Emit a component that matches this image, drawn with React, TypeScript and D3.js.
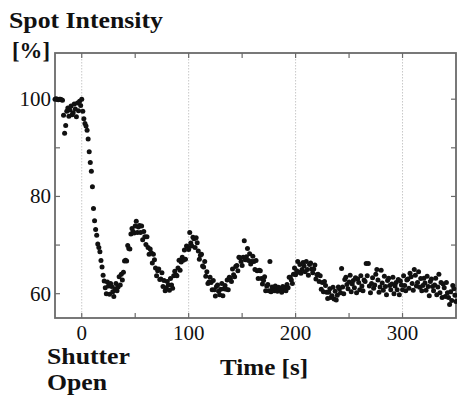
import React from "react";
import * as d3 from "d3";

// Sampled every second, starting at t = -25 s
const startTime = -25;
const sampleStep = 1;
const intensity: number[] = [
  // -25 .. -16
  100.0, 100.1, 100.0, 99.9, 100.0, 100.0, 99.9, 99.8, 96.7, 93.0,
  // -15 .. -6
  94.6, 97.5, 98.2, 96.5, 97.8, 98.6, 96.8, 97.2, 99.0, 98.0,
  // -5 .. 4
  96.4, 99.2, 97.6, 99.6, 98.7, 100.0, 97.5, 96.0, 95.0, 94.5,
  // 5 .. 14
  93.6, 91.8, 89.2, 87.0, 85.2, 82.0, 77.5, 75.0, 73.2, 72.0,
  // 15 .. 24
  70.2, 69.5, 68.6, 66.8, 65.5, 63.8, 62.6, 61.2, 60.0, 62.4,
  // 25 .. 34
  61.6, 59.9, 62.1, 61.5, 60.4, 59.4, 61.0, 62.1, 60.6, 61.4,
  // 35 .. 44
  63.5, 61.8, 64.0, 62.8, 64.4, 66.7, 66.9, 66.7, 69.9, 69.3,
  // 45 .. 54
  69.2, 72.3, 73.4, 72.8, 72.5, 73.9, 74.9, 72.6, 73.7, 74.0,
  // 55 .. 64
  72.6, 73.9, 71.1, 72.8, 71.7, 70.1, 71.7, 69.5, 68.1, 69.2,
  // 65 .. 74
  68.4, 66.3, 68.1, 67.0, 65.3, 63.7, 64.7, 65.1, 62.9, 63.0,
  // 75 .. 84
  64.3, 61.5, 62.7, 60.6, 61.2, 62.5, 61.8, 60.7, 63.1, 61.8,
  // 85 .. 94
  61.1, 63.7, 64.6, 63.9, 63.7, 65.3, 66.9, 64.8, 66.5, 67.5,
  // 95 .. 104
  66.9, 69.0, 67.1, 69.8, 69.7, 69.1, 72.6, 70.4, 69.8, 71.6,
  // 105 .. 114
  71.3, 69.5, 71.5, 70.5, 68.8, 67.1, 67.9, 68.1, 65.7, 65.5,
  // 115 .. 124
  66.6, 63.6, 64.5, 62.1, 62.4, 63.4, 62.3, 60.8, 62.7, 60.8,
  // 125 .. 134
  59.5, 61.5, 61.8, 60.5, 59.8, 60.9, 62.1, 59.6, 61.0, 61.7,
  // 135 .. 144
  60.9, 62.8, 60.8, 63.4, 63.2, 62.5, 65.1, 63.9, 63.5, 65.6,
  // 145 .. 154
  65.8, 64.7, 67.5, 67.4, 66.6, 65.8, 67.5, 70.9, 67.0, 67.6,
  // 155 .. 164
  69.3, 66.8, 68.2, 66.1, 66.6, 67.7, 66.6, 65.0, 66.8, 64.7,
  // 165 .. 174
  63.1, 64.8, 64.7, 63.1, 62.0, 62.7, 63.5, 60.6, 61.6, 61.9,
  // 175 .. 184
  60.6, 66.6, 60.4, 61.4, 61.1, 60.6, 61.6, 60.8, 60.5, 61.3,
  // 185 .. 194
  60.7, 61.0, 60.3, 61.5, 60.8, 61.2, 60.6, 61.9, 61.2, 63.4,
  // 195 .. 204
  63.4, 62.8, 62.1, 64.0, 65.3, 63.9, 64.7, 66.6, 64.4, 66.0,
  // 205 .. 214
  64.2, 65.0, 66.4, 65.7, 64.5, 66.6, 65.0, 63.8, 66.0, 66.3,
  // 215 .. 224
  65.1, 64.3, 65.1, 65.9, 63.0, 63.9, 64.0, 62.5, 63.7, 60.9,
  // 225 .. 234
  62.3, 60.4, 62.5, 61.7, 60.3, 59.0, 60.3, 61.0, 59.2, 59.6,
  // 235 .. 244
  61.3, 58.9, 60.5, 58.7, 59.7, 61.4, 61.0, 60.2, 65.2, 61.4,
  // 245 .. 254
  60.0, 62.9, 63.4, 61.9, 61.0, 62.4, 63.8, 60.4, 62.0, 62.7,
  // 255 .. 264
  61.2, 63.3, 60.2, 63.0, 62.3, 60.8, 63.7, 61.6, 60.6, 62.8,
  // 265 .. 274
  62.5, 66.2, 63.7, 66.2, 61.6, 60.2, 62.1, 63.3, 61.1, 61.8,
  // 275 .. 284
  64.0, 65.0, 62.8, 60.3, 61.4, 64.8, 62.2, 60.7, 63.6, 61.5,
  // 285 .. 294
  59.8, 62.7, 63.2, 61.7, 60.8, 62.0, 63.4, 60.0, 61.6, 62.3,
  // 295 .. 304
  60.8, 62.9, 59.8, 62.6, 61.8, 60.8, 63.7, 61.7, 60.6, 62.8,
  // 305 .. 314
  63.0, 61.1, 64.2, 63.5, 62.1, 60.7, 65.0, 63.8, 61.6, 62.3,
  // 315 .. 324
  64.5, 61.3, 63.1, 60.6, 61.7, 63.2, 62.2, 60.7, 63.6, 61.5,
  // 325 .. 334
  59.6, 62.5, 63.0, 61.5, 60.6, 61.8, 63.2, 59.8, 61.4, 64.0,
  // 335 .. 344
  60.2, 62.3, 59.2, 62.0, 61.2, 59.4, 62.3, 60.2, 59.2, 57.8,
  // 345 .. 350
  60.4, 58.6, 61.7, 61.0, 59.7, 58.4,
];

const xDomain: [number, number] = [-25, 350];
const yDomain: [number, number] = [55, 109.5];
const xMajorTicks = [0, 100, 200, 300];
const xMinorTicks = [50, 150, 250];
const yTicks = [60, 70, 80, 90, 100];
const yLabelTicks = [60, 80, 100];

const W = 457;
const H = 396;
const left = 55;
const right = 456;
const top = 53;
const bottom = 318;

export default function App() {
  const x = d3.scaleLinear().domain(xDomain).range([left, right]);
  const y = d3.scaleLinear().domain(yDomain).range([bottom, top]);
  const points = intensity.map((v, i) => ({ t: startTime + i * sampleStep, v }));
  const serif = "'Liberation Serif', 'Times New Roman', serif";
  const tick = 5;
  const axisColor = "#6a6a6a";

  return (
    <svg
      width={W}
      height={H}
      viewBox={`0 0 ${W} ${H}`}
      style={{ position: "absolute", left: 0, top: 0, background: "#fff" }}
    >
      <rect x={0} y={0} width={W} height={H} fill="#fff" />
      {/* grid */}
      {xMajorTicks.map((t) => (
        <line
          key={`g${t}`}
          x1={x(t)}
          x2={x(t)}
          y1={top}
          y2={bottom}
          stroke="#c8c8c8"
          strokeWidth={1}
          strokeDasharray="1.5,1.5"
        />
      ))}
      {/* ticks bottom/top */}
      {[...xMajorTicks, ...xMinorTicks].map((t) => (
        <g key={`xt${t}`}>
          <line x1={x(t)} x2={x(t)} y1={bottom} y2={bottom - tick} stroke={axisColor} strokeWidth={1.2} />
          <line x1={x(t)} x2={x(t)} y1={top} y2={top + tick} stroke={axisColor} strokeWidth={1.2} />
        </g>
      ))}
      {yTicks.map((v) => (
        <g key={`yt${v}`}>
          <line x1={left} x2={left + tick} y1={y(v)} y2={y(v)} stroke={axisColor} strokeWidth={1.2} />
          <line x1={right} x2={right - tick} y1={y(v)} y2={y(v)} stroke={axisColor} strokeWidth={1.2} />
        </g>
      ))}
      {/* frame */}
      <rect
        x={left}
        y={top}
        width={right - left}
        height={bottom - top}
        fill="none"
        stroke={axisColor}
        strokeWidth={1.8}
      />
      {/* data */}
      {points.map((p, i) => (
        <circle key={i} cx={x(p.t)} cy={y(p.v)} r={2.5} fill="#111" />
      ))}
      {/* tick labels */}
      {xMajorTicks.map((t) => (
        <text
          key={`xl${t}`}
          x={x(t)}
          y={340}
          textAnchor="middle"
          fontFamily={serif}
          fontSize={21}
          fill="#111"
        >
          {t}
        </text>
      ))}
      {yLabelTicks.map((v) => (
        <text
          key={`yl${v}`}
          x={51}
          y={y(v) + 7}
          textAnchor="end"
          fontFamily={serif}
          fontSize={21}
          fill="#111"
        >
          {v}
        </text>
      ))}
      {/* titles */}
      <text x={9} y={28} fontFamily={serif} fontWeight="bold" fontSize={23} fill="#111"
        textLength={154} lengthAdjust="spacingAndGlyphs">
        Spot Intensity
      </text>
      <text x={12} y={58} fontFamily={serif} fontWeight="bold" fontSize={23} fill="#111"
        textLength={38} lengthAdjust="spacingAndGlyphs">
        [%]
      </text>
      <text x={47} y={364} fontFamily={serif} fontWeight="bold" fontSize={24} fill="#111"
        textLength={83} lengthAdjust="spacingAndGlyphs">
        Shutter
      </text>
      <text x={47} y={390} fontFamily={serif} fontWeight="bold" fontSize={24} fill="#111"
        textLength={60} lengthAdjust="spacingAndGlyphs">
        Open
      </text>
      <text x={220} y={375} fontFamily={serif} fontWeight="bold" fontSize={24} fill="#111"
        textLength={88} lengthAdjust="spacingAndGlyphs">
        Time [s]
      </text>
    </svg>
  );
}
